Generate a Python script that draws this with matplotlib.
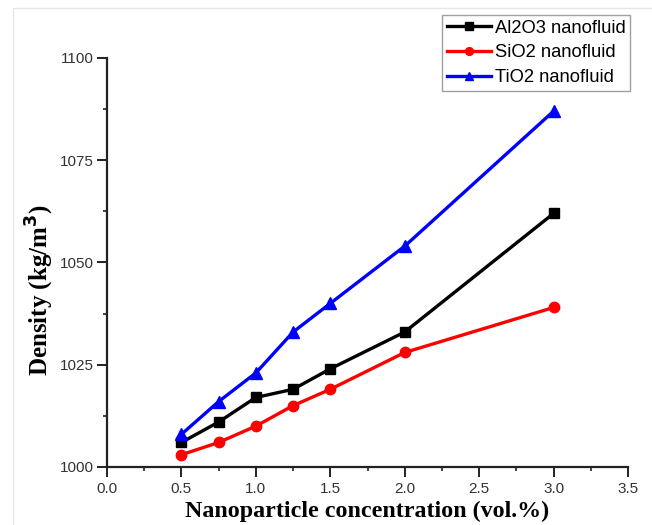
import matplotlib
matplotlib.use("Agg")
import matplotlib.pyplot as plt
from matplotlib.ticker import MultipleLocator
from matplotlib.patches import Rectangle

conc = [0.5, 0.75, 1.0, 1.25, 1.5, 2.0, 3.0]
al2o3 = [1006, 1011, 1017, 1019, 1024, 1033, 1062]
sio2 = [1003, 1006, 1010, 1015, 1019, 1028, 1039]
tio2 = [1008, 1016, 1023, 1033, 1040, 1054, 1087]
labels = ["Al2O3 nanofluid", "SiO2 nanofluid", "TiO2 nanofluid"]
xtick_labels = ["0.0", "0.5", "1.0", "1.5", "2.0", "2.5", "3.0", "3.5"]

fig = plt.figure(figsize=(6.52, 5.25), dpi=100)
fig.patches.append(Rectangle((13/652, -0.01), 1.0, (525-8)/525 + 0.01, transform=fig.transFigure,
                             fill=False, edgecolor="#e6e6e6", linewidth=1.0))
ax = fig.add_axes([107/652, 58/525, (628-107)/652, (467-58)/525])

ax.plot(conc, al2o3, color="black", marker="s", markersize=7, linewidth=2.4, label=labels[0], clip_on=False)
ax.plot(conc, sio2, color="red", marker="o", markersize=7.5, linewidth=2.4, label=labels[1], clip_on=False)
ax.plot(conc, tio2, color="blue", marker="^", markersize=8, linewidth=2.4, label=labels[2], clip_on=False)

ax.set_xlim(0, 3.5)
ax.set_ylim(1000, 1100)
ax.xaxis.set_minor_locator(MultipleLocator(0.25))
ax.yaxis.set_major_locator(MultipleLocator(25))
ax.yaxis.set_minor_locator(MultipleLocator(12.5))
ax.set_xticks([0.0, 0.5, 1.0, 1.5, 2.0, 2.5, 3.0, 3.5])
ax.set_xticklabels(xtick_labels)

for s in ["top", "right"]:
    ax.spines[s].set_visible(False)
for s in ["left", "bottom"]:
    ax.spines[s].set_linewidth(1.6)
    ax.spines[s].set_color("#222222")

ax.tick_params(which="major", direction="out", length=7, width=1.4, colors="#222222", labelsize=11, pad=2.5)
ax.tick_params(axis="x", which="major", pad=3.5)
ax.tick_params(which="minor", direction="out", length=3, width=1.2, colors="#222222")
for lab in ax.get_xticklabels() + ax.get_yticklabels():
    lab.set_fontfamily("Liberation Sans")
    lab.set_color("#333333")

ax.set_xlabel("Nanoparticle concentration (vol.%)", fontfamily="Liberation Serif",
              fontweight="bold", fontsize=17.3, labelpad=4)
ax.set_ylabel("Density (kg/m$^\\mathbf{3}$)", fontfamily="Liberation Serif",
              fontweight="bold", fontsize=18)
ax.yaxis.set_label_coords((56 - 107) / 521, (467 - 290) / 409)

leg = ax.legend(loc="upper right", bbox_to_anchor=(630/652, 1 - 15/525), bbox_transform=fig.transFigure,
                prop={"family": "Liberation Sans", "size": 13.2}, frameon=True, fancybox=False,
                handlelength=2.4, handletextpad=0.2, borderpad=0.25, borderaxespad=0,
                labelspacing=0.42, markerscale=0.75)
leg.get_frame().set_edgecolor("#888888")
leg.get_frame().set_linewidth(1.0)

fig.savefig("out.png", dpi=100)
